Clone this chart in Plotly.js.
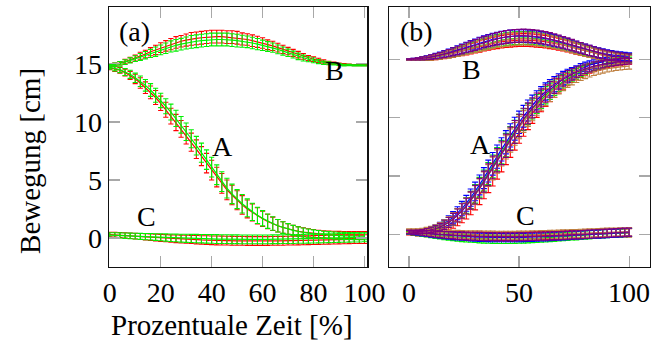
<!DOCTYPE html>
<html><head><meta charset="utf-8">
<script src="https://cdn.plot.ly/plotly-3.0.1.min.js"></script>
<style>html,body{margin:0;padding:0;background:#fff}#chart{width:653px;height:349px}</style>
</head><body><div id="chart"></div>
<script>
// x positions (percent time)
const xPct = [0,2,4,6,8,10,12,14,16,18,20,22,24,26,28,30,32,34,36,38,40,42,44,46,48,50,52,54,56,58,60,62,64,66,68,70,72,74,76,78,80,82,84,86,88,90,92,94,96,98,100];

// ---- panel (a) ----
const aA_red   = [14.65,14.55,14.45,14.25,14.0,13.7,13.35,12.95,12.55,12.1,11.6,11.05,10.5,9.95,9.4,8.85,8.25,7.65,7.05,6.45,5.85,5.25,4.7,4.15,3.7,3.25,2.85,2.5,2.2,1.9,1.65,1.42,1.22,1.05,0.9,0.78,0.67,0.58,0.5,0.44,0.39,0.35,0.32,0.3,0.28,0.27,0.26,0.25,0.25,0.25,0.25];
const aA_green = [14.7,14.6,14.5,14.3,14.1,13.8,13.5,13.15,12.75,12.3,11.85,11.35,10.85,10.3,9.75,9.15,8.55,7.95,7.35,6.75,6.1,5.45,4.85,4.3,3.8,3.35,2.95,2.6,2.25,1.95,1.7,1.45,1.25,1.05,0.9,0.78,0.66,0.56,0.48,0.42,0.36,0.32,0.28,0.25,0.22,0.2,0.18,0.17,0.16,0.15,0.15];
const aA_sd    = [0.15,0.2,0.25,0.3,0.35,0.4,0.45,0.5,0.55,0.6,0.62,0.65,0.68,0.7,0.72,0.75,0.78,0.8,0.82,0.84,0.85,0.85,0.85,0.85,0.84,0.82,0.8,0.77,0.74,0.7,0.66,0.62,0.58,0.54,0.5,0.46,0.43,0.4,0.38,0.36,0.34,0.32,0.3,0.3,0.3,0.3,0.3,0.3,0.3,0.3,0.3];
const aB_red   = [14.85,14.95,15.05,15.2,15.35,15.5,15.7,15.85,16.05,16.2,16.4,16.55,16.7,16.85,16.95,17.05,17.15,17.2,17.25,17.3,17.35,17.35,17.35,17.3,17.3,17.25,17.15,17.1,17.0,16.9,16.8,16.65,16.55,16.4,16.25,16.1,15.95,15.8,15.65,15.5,15.4,15.3,15.2,15.1,15.05,15.0,14.95,14.92,14.9,14.9,14.9];
const aB_green = [14.9,14.95,15.05,15.15,15.3,15.45,15.6,15.75,15.9,16.05,16.2,16.35,16.5,16.6,16.7,16.8,16.9,16.95,17.0,17.05,17.1,17.1,17.1,17.1,17.05,17.0,16.95,16.9,16.8,16.7,16.6,16.5,16.4,16.25,16.1,15.95,15.8,15.65,15.5,15.4,15.3,15.2,15.1,15.05,15.0,14.95,14.9,14.9,14.88,14.87,14.87];
const aB_sd    = [0.1,0.12,0.15,0.2,0.22,0.25,0.3,0.32,0.35,0.4,0.42,0.45,0.48,0.5,0.5,0.52,0.55,0.55,0.55,0.55,0.55,0.55,0.55,0.55,0.55,0.55,0.52,0.5,0.5,0.48,0.45,0.42,0.4,0.38,0.35,0.32,0.3,0.28,0.25,0.22,0.2,0.18,0.15,0.12,0.1,0.08,0.07,0.06,0.05,0.05,0.05];
const aC_red   = [0.3,0.28,0.25,0.22,0.19,0.16,0.13,0.1,0.07,0.04,0.01,-0.02,-0.05,-0.07,-0.09,-0.11,-0.13,-0.15,-0.17,-0.18,-0.2,-0.21,-0.22,-0.23,-0.24,-0.25,-0.25,-0.26,-0.26,-0.26,-0.26,-0.26,-0.25,-0.25,-0.24,-0.23,-0.22,-0.21,-0.2,-0.19,-0.18,-0.17,-0.16,-0.15,-0.14,-0.13,-0.12,-0.11,-0.1,-0.1,-0.1];
const aC_green = [0.25,0.24,0.22,0.2,0.18,0.16,0.14,0.12,0.1,0.08,0.06,0.04,0.02,0.0,-0.02,-0.03,-0.04,-0.05,-0.06,-0.07,-0.08,-0.09,-0.1,-0.1,-0.11,-0.11,-0.12,-0.12,-0.12,-0.12,-0.12,-0.12,-0.11,-0.11,-0.1,-0.1,-0.09,-0.08,-0.07,-0.06,-0.05,-0.04,-0.03,-0.02,-0.01,0.0,0.01,0.02,0.03,0.04,0.05];
const aC_sd    = [0.2,0.21,0.22,0.23,0.24,0.25,0.26,0.27,0.28,0.29,0.3,0.31,0.32,0.33,0.34,0.35,0.35,0.36,0.36,0.37,0.37,0.38,0.38,0.38,0.38,0.38,0.38,0.38,0.38,0.38,0.38,0.38,0.38,0.38,0.38,0.38,0.38,0.38,0.38,0.38,0.38,0.38,0.38,0.38,0.38,0.38,0.38,0.38,0.38,0.38,0.38];

// ---- panel (b) ----
const bA_red    = [0.25,0.2,0.2,0.22,0.25,0.3,0.38,0.48,0.62,0.8,1.02,1.3,1.62,2.0,2.42,2.9,3.4,3.95,4.52,5.12,5.74,6.36,6.98,7.6,8.2,8.78,9.34,9.88,10.38,10.85,11.3,11.7,12.08,12.42,12.74,13.02,13.28,13.52,13.72,13.9,14.06,14.2,14.32,14.43,14.52,14.6,14.67,14.72,14.77,14.81,14.84];
const bA_green  = [0.15,0.15,0.17,0.2,0.25,0.33,0.44,0.59,0.78,1.02,1.31,1.65,2.04,2.48,2.96,3.48,4.04,4.62,5.22,5.83,6.45,7.06,7.66,8.24,8.8,9.33,9.84,10.31,10.76,11.18,11.57,11.93,12.27,12.58,12.87,13.13,13.37,13.59,13.79,13.97,14.13,14.27,14.4,14.51,14.61,14.7,14.77,14.83,14.88,14.92,14.95];
const bA_blue   = [0.22,0.22,0.24,0.28,0.34,0.43,0.55,0.71,0.91,1.16,1.46,1.81,2.21,2.66,3.15,3.68,4.24,4.82,5.43,6.05,6.67,7.29,7.9,8.49,9.06,9.61,10.13,10.62,11.08,11.5,11.89,12.25,12.58,12.88,13.15,13.4,13.62,13.81,13.98,14.2,14.36,14.5,14.62,14.72,14.81,14.88,14.95,15.0,15.05,15.09,15.12];
const bA_brown  = [0.3,0.3,0.32,0.35,0.4,0.47,0.56,0.7,0.87,1.08,1.34,1.65,2.02,2.43,2.88,3.37,3.9,4.46,5.04,5.64,6.25,6.86,7.46,8.05,8.62,9.16,9.68,10.16,10.61,11.03,11.42,11.78,12.1,12.4,12.67,12.91,13.13,13.32,13.49,13.64,13.77,13.88,13.98,14.07,14.15,14.22,14.28,14.33,14.37,14.4,14.42];
const bA_violet = [0.2,0.2,0.22,0.25,0.3,0.38,0.48,0.62,0.8,1.02,1.3,1.62,2.0,2.42,2.9,3.4,3.95,4.52,5.12,5.74,6.36,6.98,7.6,8.2,8.78,9.34,9.88,10.38,10.85,11.3,11.7,12.08,12.42,12.74,13.02,13.28,13.52,13.72,13.9,14.06,14.2,14.32,14.43,14.52,14.6,14.67,14.72,14.77,14.81,14.84,14.86];
const bA_sd     = [0.15,0.15,0.15,0.17,0.2,0.23,0.27,0.32,0.37,0.43,0.5,0.56,0.62,0.68,0.74,0.8,0.85,0.9,0.94,0.97,1.0,1.0,1.0,1.0,0.98,0.96,0.93,0.9,0.86,0.82,0.78,0.74,0.7,0.66,0.62,0.58,0.54,0.5,0.47,0.44,0.41,0.38,0.36,0.34,0.32,0.3,0.29,0.28,0.27,0.26,0.25];
const bB_red    = [14.98,14.99,15.01,15.04,15.08,15.13,15.19,15.26,15.34,15.43,15.52,15.62,15.72,15.82,15.92,16.02,16.12,16.22,16.31,16.39,16.46,16.52,16.57,16.61,16.64,16.66,16.67,16.66,16.64,16.61,16.57,16.52,16.46,16.39,16.31,16.22,16.13,16.03,15.93,15.83,15.73,15.63,15.54,15.45,15.37,15.3,15.24,15.19,15.15,15.12,15.1];
const bB_green  = [15.0,15.01,15.04,15.07,15.12,15.17,15.23,15.3,15.38,15.47,15.57,15.67,15.78,15.89,16.0,16.11,16.22,16.33,16.43,16.52,16.6,16.67,16.73,16.78,16.82,16.84,16.85,16.84,16.82,16.78,16.73,16.67,16.6,16.52,16.43,16.33,16.23,16.12,16.01,15.9,15.79,15.69,15.59,15.5,15.42,15.35,15.29,15.24,15.2,15.17,15.15];
const bB_blue   = [15.0,15.02,15.06,15.1,15.16,15.22,15.3,15.38,15.48,15.58,15.69,15.81,15.93,16.05,16.17,16.29,16.41,16.52,16.62,16.72,16.8,16.87,16.93,16.97,17.0,17.01,17.01,16.99,16.96,16.92,16.86,16.79,16.71,16.62,16.52,16.42,16.31,16.2,16.09,15.98,15.87,15.77,15.67,15.58,15.5,15.43,15.37,15.32,15.28,15.25,15.23];
const bB_brown  = [14.98,15.0,15.03,15.06,15.1,15.15,15.21,15.28,15.36,15.45,15.54,15.64,15.74,15.85,15.96,16.07,16.18,16.28,16.38,16.47,16.55,16.62,16.68,16.73,16.76,16.78,16.79,16.78,16.76,16.72,16.67,16.61,16.54,16.46,16.37,16.27,16.17,16.06,15.95,15.84,15.73,15.62,15.52,15.42,15.33,15.25,15.18,15.12,15.07,15.03,15.0];
const bB_violet = [15.0,15.02,15.05,15.09,15.14,15.2,15.27,15.35,15.44,15.54,15.65,15.76,15.88,16.0,16.12,16.24,16.36,16.48,16.59,16.69,16.78,16.86,16.93,16.98,17.02,17.04,17.05,17.04,17.01,16.97,16.92,16.85,16.77,16.68,16.58,16.47,16.36,16.24,16.12,16.0,15.88,15.77,15.66,15.56,15.47,15.39,15.32,15.26,15.21,15.17,15.14];
const bB_sd     = [0.05,0.07,0.1,0.13,0.16,0.19,0.22,0.25,0.28,0.31,0.34,0.37,0.4,0.43,0.45,0.47,0.49,0.5,0.51,0.52,0.53,0.54,0.55,0.55,0.55,0.55,0.55,0.55,0.55,0.55,0.54,0.54,0.53,0.52,0.51,0.5,0.49,0.48,0.47,0.46,0.45,0.44,0.43,0.42,0.41,0.4,0.39,0.38,0.37,0.36,0.35];
const bC_red    = [0.1,0.08,0.06,0.04,0.02,0.0,-0.02,-0.04,-0.06,-0.08,-0.1,-0.11,-0.12,-0.13,-0.14,-0.15,-0.16,-0.16,-0.17,-0.17,-0.17,-0.17,-0.17,-0.17,-0.16,-0.16,-0.15,-0.14,-0.13,-0.12,-0.11,-0.1,-0.09,-0.08,-0.07,-0.05,-0.04,-0.03,-0.01,0.0,0.01,0.03,0.04,0.05,0.07,0.08,0.09,0.1,0.11,0.12,0.13];
const bC_green  = [0.15,0.12,0.08,0.04,0.0,-0.04,-0.08,-0.12,-0.16,-0.2,-0.23,-0.26,-0.29,-0.32,-0.34,-0.36,-0.38,-0.4,-0.41,-0.42,-0.43,-0.43,-0.43,-0.43,-0.42,-0.41,-0.4,-0.38,-0.36,-0.34,-0.32,-0.3,-0.27,-0.25,-0.22,-0.2,-0.17,-0.14,-0.12,-0.09,-0.06,-0.04,-0.01,0.01,0.04,0.06,0.08,0.1,0.12,0.14,0.15];
const bC_blue   = [0.18,0.15,0.12,0.08,0.05,0.01,-0.02,-0.05,-0.08,-0.11,-0.14,-0.16,-0.18,-0.2,-0.22,-0.24,-0.25,-0.26,-0.27,-0.28,-0.28,-0.29,-0.29,-0.29,-0.28,-0.28,-0.27,-0.26,-0.25,-0.24,-0.22,-0.21,-0.19,-0.17,-0.15,-0.13,-0.11,-0.09,-0.07,-0.05,-0.03,-0.01,0.01,0.03,0.05,0.07,0.09,0.11,0.13,0.15,0.17];
const bC_brown  = [0.3,0.28,0.25,0.22,0.19,0.16,0.13,0.1,0.08,0.06,0.04,0.02,0.0,-0.02,-0.03,-0.04,-0.05,-0.06,-0.07,-0.07,-0.08,-0.08,-0.08,-0.08,-0.08,-0.07,-0.07,-0.06,-0.05,-0.04,-0.03,-0.02,-0.01,0.0,0.01,0.03,0.04,0.06,0.07,0.09,0.1,0.12,0.13,0.15,0.16,0.18,0.19,0.2,0.21,0.22,0.23];
const bC_violet = [0.2,0.18,0.15,0.12,0.09,0.06,0.03,0.0,-0.03,-0.06,-0.08,-0.1,-0.12,-0.14,-0.16,-0.17,-0.18,-0.19,-0.2,-0.2,-0.21,-0.21,-0.21,-0.21,-0.21,-0.2,-0.2,-0.19,-0.18,-0.17,-0.16,-0.15,-0.13,-0.12,-0.1,-0.09,-0.07,-0.05,-0.04,-0.02,0.0,0.02,0.04,0.06,0.08,0.1,0.12,0.14,0.16,0.18,0.2];
const bC_sd     = [0.15,0.17,0.19,0.21,0.23,0.25,0.27,0.28,0.29,0.3,0.31,0.32,0.33,0.33,0.34,0.34,0.35,0.35,0.35,0.35,0.35,0.35,0.35,0.35,0.35,0.35,0.35,0.35,0.35,0.35,0.35,0.35,0.35,0.35,0.35,0.35,0.35,0.35,0.35,0.35,0.35,0.35,0.35,0.35,0.35,0.35,0.35,0.35,0.35,0.35,0.35];

const COL = {red:'#ff0000', green:'#00f000', blue:'#0000ff', brown:'#bf8040', violet:'#800080'};
const FONT = 'Liberation Serif';

function tr(y, sd, color, xa, ya, capw) {
  return {x: xPct, y: y, type:'scatter', mode:'lines', xaxis: xa, yaxis: ya,
    line:{color: color, width: 1.2}, showlegend:false, hoverinfo:'skip',
    error_y:{type:'data', array: sd, visible:true, color: color, thickness: 1.1, width: capw}};
}

const traces = [];
[['red',aA_red,aB_red,aC_red],['green',aA_green,aB_green,aC_green]].forEach(s => {
  traces.push(tr(s[1], aA_sd, COL[s[0]], 'x', 'y', 2.6));
  traces.push(tr(s[2], aB_sd, COL[s[0]], 'x', 'y', 2.6));
  traces.push(tr(s[3], aC_sd, COL[s[0]], 'x', 'y', 2.6));
});
[['red',bA_red,bB_red,bC_red],['green',bA_green,bB_green,bC_green],['blue',bA_blue,bB_blue,bC_blue],
 ['brown',bA_brown,bB_brown,bC_brown],['violet',bA_violet,bB_violet,bC_violet]].forEach(s => {
  traces.push(tr(s[1], bA_sd, COL[s[0]], 'x2', 'y2', 3));
  traces.push(tr(s[2], bB_sd, COL[s[0]], 'x2', 'y2', 3));
  traces.push(tr(s[3], bC_sd, COL[s[0]], 'x2', 'y2', 3));
});

const axBase = {showgrid:false, zeroline:false, showline:true, linecolor:'#111', linewidth:1.3, mirror:'ticks',
  ticks:'inside', ticklen:11, tickwidth:1.2, tickcolor:'#a8a8a8',
  tickfont:{family:FONT, size:28, color:'#000'}};

const labFont = {family:FONT, size:28, color:'#000'};
function lab(t, x, y, xr, yr) { return {text:t, x:x, y:y, xref:xr, yref:yr, showarrow:false, font:labFont, xanchor:'center', yanchor:'middle'}; }

const layout = {
  width:653, height:349, paper_bgcolor:'#fff', plot_bgcolor:'#fff',
  font:{family:FONT, color:'#000'},
  margin:{l:109, r:3, t:7, b:82},
  xaxis: Object.assign({}, axBase, {domain:[0,0.4778], range:[-0.3,101.2], tickvals:[0,20,40,60,80,100], anchor:'y'}),
  yaxis: Object.assign({}, axBase, {domain:[0,1], range:[-2.5,19.9], tickvals:[0,5,10,15], anchor:'x'}),
  xaxis2: Object.assign({}, axBase, {domain:[0.5181,1], range:[-9,109.5], tickvals:[0,50,100], anchor:'y2'}),
  yaxis2: Object.assign({}, axBase, {domain:[0,1], range:[-2.8,19.5], tickvals:[0,5,10,15], showticklabels:false, anchor:'x2'}),
  annotations: [
    {text:'(a)', x:0.03, y:0.975, xref:'x domain', yref:'y domain', xanchor:'left', yanchor:'top', showarrow:false, font:labFont},
    {text:'(b)', x:0.035, y:0.975, xref:'x2 domain', yref:'y2 domain', xanchor:'left', yanchor:'top', showarrow:false, font:labFont},
    lab('A', 44.1, 7.9, 'x', 'y'), lab('B', 88.4, 14.45, 'x', 'y'), lab('C', 14.4, 1.85, 'x', 'y'),
    lab('A', 32.3, 7.7, 'x2', 'y2'), lab('B', 28.5, 14.15, 'x2', 'y2'), lab('C', 52.7, 1.6, 'x2', 'y2'),
    {text:'Bewegung [cm]', x:-0.146, y:0.408, xref:'paper', yref:'paper', textangle:-90, showarrow:false,
     xanchor:'center', yanchor:'middle', font:{family:FONT, size:29, color:'#000'}},
    {text:'Prozentuale Zeit [%]', x:0.227, y:-0.223, xref:'paper', yref:'paper', showarrow:false,
     xanchor:'center', yanchor:'middle', font:{family:FONT, size:29, color:'#000'}}
  ]
};

Plotly.newPlot('chart', traces, layout, {staticPlot:true, displayModeBar:false});
</script></body></html>
